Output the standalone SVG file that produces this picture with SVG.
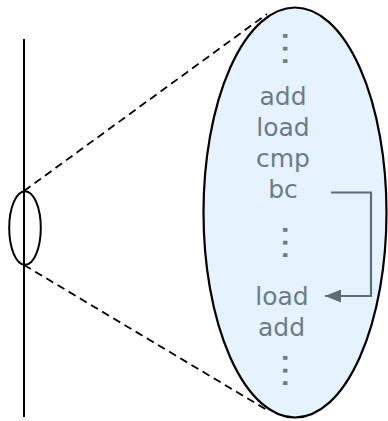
<svg xmlns="http://www.w3.org/2000/svg" width="388" height="421" viewBox="0 0 388 421">
<defs>
<style>
.ln{stroke:#000;fill:none;stroke-width:2}
.dash{stroke:#000;fill:none;stroke-width:1.8;stroke-dasharray:8 5}
.t{font-family:"DejaVu Sans",sans-serif;font-size:25px;fill:#6b7c88;text-anchor:middle}
.dots{font-family:"Liberation Sans",sans-serif;font-size:40px;fill:#6b7c88;text-anchor:middle}
</style>
<marker id="ah" viewBox="0 0 16 13" refX="16" refY="6.5" markerWidth="16" markerHeight="13" markerUnits="userSpaceOnUse" orient="auto">
<path d="M0,0 L16,6.5 L0,13 z" fill="#5c6d79"/>
</marker>
</defs>
<g id="timeline">
<line class="ln" x1="24" y1="39" x2="24" y2="417"/>
</g>
<g id="small-ellipse">
<ellipse class="ln" cx="25" cy="228" rx="15.8" ry="36.8"/>
</g>
<g id="big-ellipse">
<ellipse cx="295" cy="212.5" rx="91.5" ry="205" fill="#e6f3ff" stroke="#000" stroke-width="2.2"/>
<text class="t" x="283" y="105">add</text>
<text class="t" x="283" y="136">load</text>
<text class="t" x="283" y="167">cmp</text>
<text class="t" x="283" y="198">bc</text>
<text class="t" x="282" y="305">load</text>
<text class="t" x="281.5" y="336">add</text>
<text class="dots" transform="translate(283,48.5) rotate(90)">…</text>
<text class="dots" transform="translate(283,242.5) rotate(90)">…</text>
<text class="dots" transform="translate(283,370.5) rotate(90)">…</text>
</g>
<g id="connectors">
<line class="dash" x1="24" y1="191" x2="267" y2="14"/>
<line class="dash" x1="24" y1="265" x2="267" y2="410"/>
<path d="M331,192.5 H371 V296 H325" fill="none" stroke="#5c6d79" stroke-width="2.2" marker-end="url(#ah)"/>
</g>
</svg>
